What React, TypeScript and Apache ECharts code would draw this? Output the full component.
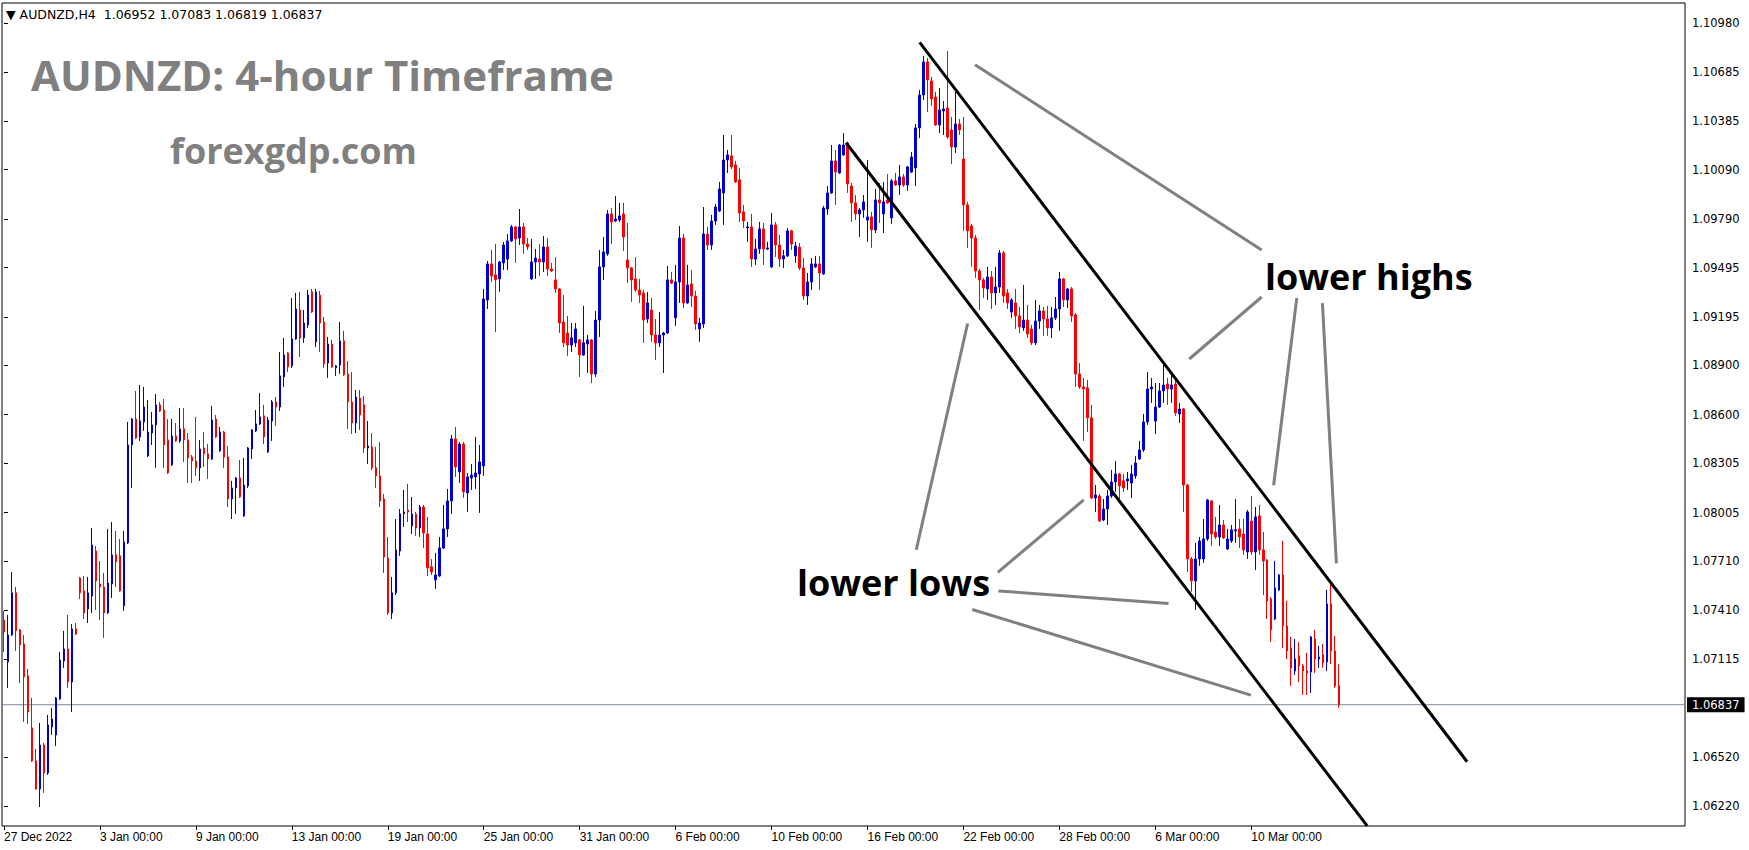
import React, { useEffect, useRef } from "react";
import * as echarts from "echarts";

const symbolName = "AUDNZD";
const timeframe = "H4";
const lastBar = { open: 1.06952, high: 1.07083, low: 1.06819, close: 1.06837 };
const currentPrice = 1.06837;

// each row: [open, close, low, high]
const decemberBars = [
  [1.07352, 1.07279, 1.07158, 1.07407], [1.07097, 1.07261, 1.06939, 1.07383], [1.07261, 1.07517, 1.07255, 1.07644],
  [1.07517, 1.07286, 1.07164, 1.07553], [1.07292, 1.072, 1.06969, 1.07298], [1.07206, 1.07006, 1.06732, 1.07261],
  [1.07012, 1.06793, 1.0672, 1.07054], [1.06696, 1.06495, 1.06489, 1.06878], [1.06495, 1.06325, 1.06319, 1.06568],
  [1.06325, 1.06592, 1.06215, 1.06726], [1.06592, 1.06422, 1.06301, 1.06605], [1.06422, 1.06714, 1.0641, 1.06775],
  [1.06702, 1.0675, 1.06653, 1.06817], [1.06653, 1.06878, 1.06586, 1.06884], [1.06872, 1.07109, 1.06866, 1.07158],
  [1.07103, 1.07176, 1.07061, 1.07286], [1.07176, 1.06975, 1.06939, 1.07383], [1.06975, 1.07298, 1.06793, 1.07328],
  [1.07298, 1.07267, 1.07261, 1.07334], [1.07608, 1.07517, 1.0748, 1.07614], [1.07529, 1.07395, 1.07358, 1.0762],
  [1.07419, 1.07517, 1.07334, 1.07614], [1.07498, 1.07808, 1.07395, 1.07912], [1.07772, 1.0759, 1.07413, 1.07802],
];

const januaryBars = [
  [1.07571, 1.07553, 1.07352, 1.07711], [1.07553, 1.07395, 1.07243, 1.07638], [1.07395, 1.07577, 1.07389, 1.07906],
  [1.07571, 1.07748, 1.07486, 1.07948], [1.07748, 1.07705, 1.07553, 1.07894], [1.07742, 1.07529, 1.07523, 1.07845],
  [1.07438, 1.07827, 1.07407, 1.07894], [1.07821, 1.08416, 1.07814, 1.08556], [1.08416, 1.08574, 1.08155, 1.08581],
  [1.08574, 1.08459, 1.08453, 1.08745], [1.08465, 1.08562, 1.08441, 1.08781], [1.08556, 1.08647, 1.08502, 1.08769],
  [1.0835, 1.08495, 1.08343, 1.0869], [1.08489, 1.08538, 1.08416, 1.08617], [1.08538, 1.0866, 1.08277, 1.08726],
  [1.0866, 1.08623, 1.08617, 1.08678], [1.08629, 1.08416, 1.08277, 1.08696], [1.08447, 1.08246, 1.0824, 1.08574],
  [1.08295, 1.08471, 1.08289, 1.08574], [1.08471, 1.08441, 1.08435, 1.0855], [1.08441, 1.08514, 1.08429, 1.08641],
  [1.08514, 1.08447, 1.08313, 1.08641], [1.08447, 1.08337, 1.08185, 1.08489], [1.08343, 1.08319, 1.08185, 1.08356],
  [1.08319, 1.08277, 1.08228, 1.08587], [1.08277, 1.08392, 1.08198, 1.08447], [1.08398, 1.08362, 1.08283, 1.08495],
  [1.08362, 1.08331, 1.0821, 1.08422], [1.08331, 1.08568, 1.08325, 1.08654], [1.08574, 1.08465, 1.08459, 1.08599],
  [1.0838, 1.08495, 1.08374, 1.08526], [1.08495, 1.08343, 1.08277, 1.08502], [1.08343, 1.08088, 1.08039, 1.0841],
  [1.08088, 1.08155, 1.07966, 1.08198], [1.08155, 1.08216, 1.07997, 1.08222], [1.08216, 1.081, 1.08094, 1.08325],
  [1.07985, 1.08173, 1.07979, 1.08337], [1.08167, 1.08398, 1.08155, 1.08404], [1.08392, 1.08508, 1.08331, 1.08514],
  [1.08502, 1.08544, 1.08495, 1.08629], [1.08544, 1.08587, 1.08538, 1.08733], [1.08593, 1.08465, 1.08422, 1.0866],
  [1.08374, 1.08568, 1.08368, 1.08587], [1.08562, 1.08678, 1.08441, 1.0869], [1.08678, 1.08647, 1.08532, 1.08708],
  [1.08647, 1.08836, 1.08623, 1.08982], [1.0883, 1.08964, 1.08769, 1.09067], [1.08976, 1.08891, 1.0886, 1.08982],
  [1.08897, 1.09061, 1.08885, 1.0931], [1.09061, 1.09243, 1.09055, 1.09341], [1.09237, 1.09067, 1.08951, 1.09347],
  [1.09067, 1.09158, 1.09037, 1.09237], [1.09146, 1.09328, 1.09128, 1.09359], [1.09347, 1.09225, 1.09219, 1.09365],
  [1.09043, 1.09347, 1.09012, 1.09365], [1.09328, 1.09158, 1.08982, 1.09353], [1.09164, 1.08909, 1.08885, 1.09195],
  [1.08915, 1.0903, 1.08824, 1.09073], [1.0903, 1.08891, 1.08885, 1.09055], [1.08885, 1.08897, 1.08836, 1.08903],
  [1.08903, 1.09049, 1.08848, 1.09164], [1.09049, 1.08842, 1.08836, 1.0911], [1.08848, 1.08678, 1.08514, 1.08927],
  [1.08678, 1.0855, 1.08483, 1.0886], [1.0855, 1.08708, 1.08489, 1.08751], [1.08702, 1.08599, 1.08508, 1.08751],
  [1.0866, 1.08398, 1.08368, 1.08714], [1.08398, 1.0841, 1.08301, 1.08562], [1.08404, 1.08277, 1.08264, 1.08489],
  [1.08277, 1.08228, 1.08155, 1.08404], [1.08228, 1.08076, 1.08039, 1.08435], [1.08088, 1.07735, 1.07638, 1.08118],
  [1.07729, 1.07395, 1.07383, 1.07857], [1.07395, 1.07517, 1.07358, 1.07614], [1.07517, 1.07778, 1.07504, 1.07966],
  [1.07772, 1.07997, 1.07742, 1.08027], [1.07997, 1.08009, 1.07918, 1.08143], [1.08021, 1.08009, 1.07948, 1.08179],
  [1.07924, 1.07997, 1.07875, 1.081], [1.07997, 1.07912, 1.07863, 1.08009], [1.07912, 1.08039, 1.07857, 1.08052],
  [1.08039, 1.07881, 1.0779, 1.08052], [1.07875, 1.07669, 1.0762, 1.07979], [1.07675, 1.07644, 1.07626, 1.07723],
  [1.07596, 1.07626, 1.07541, 1.0776], [1.0762, 1.0779, 1.07614, 1.07857], [1.0779, 1.07906, 1.07784, 1.08052],
  [1.07906, 1.08076, 1.07857, 1.08149], [1.08076, 1.08453, 1.07997, 1.08477], [1.08453, 1.08283, 1.08222, 1.08526],
  [1.08252, 1.08422, 1.08185, 1.08435], [1.08422, 1.08131, 1.08094, 1.08435], [1.08125, 1.08222, 1.08009, 1.08246],
  [1.08216, 1.08234, 1.08143, 1.08301], [1.08222, 1.08246, 1.08149, 1.08465], [1.0824, 1.08313, 1.08003, 1.08416],
  [1.08289, 1.09304, 1.08228, 1.09365], [1.09298, 1.09517, 1.09243, 1.09535], [1.09517, 1.09444, 1.09407, 1.09602],
  [1.0945, 1.0942, 1.09103, 1.09638], [1.09426, 1.09529, 1.09347, 1.09535], [1.09523, 1.09632, 1.0948, 1.09651],
  [1.09547, 1.09657, 1.0948, 1.09699], [1.09657, 1.09742, 1.09651, 1.09754], [1.09742, 1.09669, 1.09523, 1.09748],
  [1.09675, 1.09742, 1.09632, 1.09851], [1.09742, 1.09638, 1.09578, 1.09766], [1.09638, 1.0962, 1.09602, 1.09675],
  [1.09426, 1.09529, 1.0942, 1.09669], [1.09529, 1.09553, 1.09426, 1.09608], [1.09547, 1.09529, 1.09444, 1.09638],
  [1.09529, 1.0962, 1.09468, 1.09687], [1.0962, 1.09486, 1.09444, 1.09675], [1.09486, 1.09474, 1.09468, 1.09523],
  [1.0942, 1.09365, 1.09341, 1.09559], [1.09365, 1.09158, 1.09097, 1.09371], [1.09164, 1.09037, 1.09012, 1.09328],
  [1.09097, 1.09024, 1.08958, 1.09201], [1.09024, 1.09067, 1.08982, 1.09158], [1.09037, 1.09122, 1.09012, 1.09158],
  [1.09055, 1.08964, 1.0883, 1.09061], [1.08964, 1.09037, 1.08958, 1.09262], [1.0903, 1.09055, 1.08854, 1.09085],
  [1.09055, 1.08848, 1.08793, 1.09061], [1.08848, 1.09176, 1.0883, 1.09231], [1.09176, 1.09499, 1.09073, 1.09602],
];

const februaryBars = [
  [1.09499, 1.0959, 1.0942, 1.09681], [1.09578, 1.09821, 1.09566, 1.09845], [1.09821, 1.09772, 1.09638, 1.09857],
  [1.09778, 1.0979, 1.09772, 1.0993], [1.09784, 1.09809, 1.09772, 1.09888], [1.09821, 1.09681, 1.09596, 1.09888],
  [1.09541, 1.09493, 1.09401, 1.09766], [1.09493, 1.0942, 1.09286, 1.09499], [1.09426, 1.09359, 1.09347, 1.09559],
  [1.09359, 1.09328, 1.0928, 1.09426], [1.09341, 1.09176, 1.09037, 1.09359], [1.09182, 1.0928, 1.09158, 1.09347],
  [1.09237, 1.09085, 1.09043, 1.0931], [1.09085, 1.09037, 1.08933, 1.09182], [1.09037, 1.09085, 1.09012, 1.09225],
  [1.09085, 1.09097, 1.08854, 1.09103], [1.09097, 1.0942, 1.09091, 1.09505], [1.0942, 1.09401, 1.09395, 1.09468],
  [1.09189, 1.09407, 1.0914, 1.09511], [1.09407, 1.09675, 1.0928, 1.09748], [1.09675, 1.0928, 1.09249, 1.09699],
  [1.0928, 1.09389, 1.09274, 1.09511], [1.09395, 1.09322, 1.09255, 1.0948], [1.09322, 1.09152, 1.09116, 1.09353],
  [1.09122, 1.09158, 1.09043, 1.09189], [1.09152, 1.09699, 1.09128, 1.09863], [1.09699, 1.09632, 1.09602, 1.09742],
  [1.09632, 1.09778, 1.09602, 1.09815], [1.09778, 1.09863, 1.09754, 1.09882], [1.09839, 1.09973, 1.09833, 1.10015],
  [1.09949, 1.10149, 1.09754, 1.10301], [1.10149, 1.1018, 1.1007, 1.1021], [1.10174, 1.10107, 1.10094, 1.10301],
  [1.10119, 1.10015, 1.10009, 1.10143], [1.10028, 1.09827, 1.09772, 1.10101], [1.09833, 1.09778, 1.09736, 1.09876],
  [1.09736, 1.09742, 1.09651, 1.09772], [1.09742, 1.09547, 1.09499, 1.09821], [1.09547, 1.09608, 1.09511, 1.09669],
  [1.09608, 1.0973, 1.09578, 1.09772], [1.0973, 1.09608, 1.09511, 1.09766], [1.09608, 1.09614, 1.09602, 1.09651],
  [1.09499, 1.09754, 1.09493, 1.09827], [1.09754, 1.09632, 1.09559, 1.09772], [1.09632, 1.09547, 1.09499, 1.09693],
  [1.09547, 1.09566, 1.09493, 1.09602], [1.09566, 1.09718, 1.09559, 1.09736], [1.09718, 1.09638, 1.09602, 1.09724],
  [1.09566, 1.09626, 1.09523, 1.09651], [1.0962, 1.09493, 1.0948, 1.09645], [1.09493, 1.09322, 1.09298, 1.09553],
  [1.09322, 1.09407, 1.09268, 1.09462], [1.09407, 1.09517, 1.09359, 1.09553], [1.09499, 1.09517, 1.09493, 1.09566],
  [1.09517, 1.09462, 1.09359, 1.09566], [1.09456, 1.09857, 1.0945, 1.0987], [1.09851, 1.09949, 1.09815, 1.09991],
  [1.09949, 1.10143, 1.09942, 1.1024], [1.10143, 1.10076, 1.09876, 1.1021], [1.1007, 1.1024, 1.10064, 1.10246],
  [1.1018, 1.1024, 1.10174, 1.10313], [1.10253, 1.10003, 1.09949, 1.10259], [1.09991, 1.09888, 1.09772, 1.10009],
  [1.09888, 1.09821, 1.09784, 1.09936], [1.09821, 1.09845, 1.09681, 1.09857], [1.09845, 1.09894, 1.09797, 1.09936],
  [1.09784, 1.09803, 1.09651, 1.10149], [1.09803, 1.09724, 1.09614, 1.09833], [1.09724, 1.09906, 1.09705, 1.09973],
  [1.09906, 1.09888, 1.09766, 1.10009], [1.09821, 1.09894, 1.09705, 1.10015], [1.09906, 1.09888, 1.09882, 1.10064],
  [1.09797, 1.10022, 1.0976, 1.10034], [1.10022, 1.09997, 1.09991, 1.1007], [1.09997, 1.10046, 1.09936, 1.10119],
  [1.10046, 1.09997, 1.09985, 1.10064], [1.09997, 1.10107, 1.09961, 1.10113], [1.10076, 1.10167, 1.1007, 1.10198],
  [1.10101, 1.10344, 1.09991, 1.10368], [1.10344, 1.10544, 1.10283, 1.10575], [1.10544, 1.10745, 1.10514, 1.10782],
  [1.10745, 1.10636, 1.10441, 1.10769], [1.1063, 1.1052, 1.10478, 1.10654], [1.10532, 1.10362, 1.10356, 1.10563],
  [1.10362, 1.10453, 1.10313, 1.10587], [1.10447, 1.10459, 1.10301, 1.10508], [1.10465, 1.10289, 1.10277, 1.10812],
  [1.10332, 1.10228, 1.10125, 1.10411], [1.10228, 1.10368, 1.10192, 1.10563], [1.10368, 1.10332, 1.10301, 1.10398],
  [1.10155, 1.09876, 1.09718, 1.10411], [1.09876, 1.09718, 1.09614, 1.09894], [1.09748, 1.09675, 1.09499, 1.0976],
  [1.09675, 1.09474, 1.09432, 1.09693], [1.09474, 1.0942, 1.09237, 1.09486], [1.0942, 1.09371, 1.0931, 1.09432],
  [1.09365, 1.09438, 1.09298, 1.09499], [1.09438, 1.09341, 1.09243, 1.09474], [1.09341, 1.09377, 1.09268, 1.09499],
  [1.09377, 1.09584, 1.09341, 1.09602], [1.09584, 1.09322, 1.0928, 1.09596], [1.09341, 1.0928, 1.09243, 1.09365],
  [1.09225, 1.09298, 1.09189, 1.0931], [1.0928, 1.09201, 1.09122, 1.09365], [1.09201, 1.09134, 1.09097, 1.09255],
  [1.09128, 1.09176, 1.0911, 1.09389], [1.09176, 1.09091, 1.09067, 1.09268], [1.09122, 1.09037, 1.09024, 1.09146],
  [1.09037, 1.0917, 1.09024, 1.09298], [1.0917, 1.09231, 1.09122, 1.09268], [1.09231, 1.09182, 1.09079, 1.09255],
  [1.09182, 1.09128, 1.09079, 1.09262], [1.09128, 1.09189, 1.09067, 1.09255], [1.09189, 1.09243, 1.09176, 1.09316],
  [1.09243, 1.09426, 1.0911, 1.09468], [1.09426, 1.09298, 1.09255, 1.09432], [1.09298, 1.09365, 1.09249, 1.09371],
  [1.09365, 1.09201, 1.09164, 1.09377], [1.09207, 1.08848, 1.08769, 1.09219], [1.08848, 1.08769, 1.08757, 1.08915],
];

const marchBars = [
  [1.08769, 1.08757, 1.08441, 1.08824], [1.08763, 1.08581, 1.08495, 1.08812], [1.08581, 1.08094, 1.08088, 1.0866],
  [1.08094, 1.08112, 1.08009, 1.08173], [1.08106, 1.07954, 1.07948, 1.08118], [1.0796, 1.08027, 1.07954, 1.08088],
  [1.08027, 1.08106, 1.0793, 1.08143], [1.08106, 1.08191, 1.08094, 1.08264], [1.08191, 1.0824, 1.08131, 1.08319],
  [1.0824, 1.08167, 1.08088, 1.08246], [1.08198, 1.08155, 1.08131, 1.0824], [1.08198, 1.0821, 1.08143, 1.08252],
  [1.08185, 1.0824, 1.08094, 1.08295], [1.08228, 1.08307, 1.0821, 1.0835], [1.08331, 1.08386, 1.08325, 1.08441],
  [1.08386, 1.08556, 1.08374, 1.08605], [1.08556, 1.08757, 1.08538, 1.0886], [1.08757, 1.08769, 1.08672, 1.08824],
  [1.08562, 1.08647, 1.08483, 1.08793], [1.08647, 1.08745, 1.08641, 1.08793], [1.08745, 1.08781, 1.08672, 1.08915],
  [1.08787, 1.08757, 1.0866, 1.08824], [1.08757, 1.08781, 1.08672, 1.08848], [1.08787, 1.08611, 1.08593, 1.08812],
  [1.08605, 1.08635, 1.0855, 1.08672], [1.08635, 1.08173, 1.08009, 1.08641], [1.08173, 1.07723, 1.07644, 1.08179],
  [1.07723, 1.0759, 1.07523, 1.07735], [1.0759, 1.07723, 1.07413, 1.07821], [1.07723, 1.07833, 1.07681, 1.07857],
  [1.07723, 1.07845, 1.07699, 1.07966], [1.07845, 1.08082, 1.07833, 1.08088], [1.08076, 1.07875, 1.07802, 1.08082],
  [1.07887, 1.07857, 1.07845, 1.07979], [1.07857, 1.0793, 1.07802, 1.08052], [1.0793, 1.07851, 1.07845, 1.0796],
  [1.07784, 1.07845, 1.07778, 1.07906], [1.07833, 1.079, 1.07821, 1.0793], [1.07894, 1.079, 1.07821, 1.08088],
  [1.07906, 1.07857, 1.0779, 1.07966], [1.07875, 1.07778, 1.07748, 1.07966], [1.07766, 1.08009, 1.07723, 1.08021],
  [1.07954, 1.07766, 1.07748, 1.08106], [1.07766, 1.07979, 1.07656, 1.08039], [1.07985, 1.07778, 1.07748, 1.08052],
  [1.07778, 1.07711, 1.07504, 1.07887], [1.07717, 1.07468, 1.07358, 1.07723], [1.0748, 1.07292, 1.07219, 1.07492],
  [1.07358, 1.07547, 1.07352, 1.07711], [1.07535, 1.07626, 1.07529, 1.07632], [1.07626, 1.07316, 1.07182, 1.07833],
  [1.07316, 1.07164, 1.07115, 1.07468], [1.07182, 1.07061, 1.06951, 1.07249], [1.07042, 1.07115, 1.07018, 1.07237],
  [1.07134, 1.07073, 1.06975, 1.07219], [1.07073, 1.07042, 1.06896, 1.07085], [1.07042, 1.0703, 1.06896, 1.07152],
  [1.07036, 1.07249, 1.06909, 1.07255], [1.07237, 1.07115, 1.0703, 1.07292], [1.07115, 1.07127, 1.07061, 1.07194],
  [1.0714, 1.07091, 1.07061, 1.07206], [1.07097, 1.0745, 1.07042, 1.07535], [1.0745, 1.07164, 1.07085, 1.07571],
  [1.07164, 1.06951, 1.06939, 1.07255],
];

// x-axis tick labels: [bar index, label]
const dateTicks: [number, string][] = [
  [0, "27 Dec 2022"], [24, "3 Jan 00:00"], [48, "9 Jan 00:00"], [72, "13 Jan 00:00"], [96, "19 Jan 00:00"],
  [120, "25 Jan 00:00"], [144, "31 Jan 00:00"], [168, "6 Feb 00:00"], [192, "10 Feb 00:00"], [216, "16 Feb 00:00"],
  [240, "22 Feb 00:00"], [264, "28 Feb 00:00"], [288, "6 Mar 00:00"], [312, "10 Mar 00:00"],
];

const priceTicks = [
  1.1098, 1.10685, 1.10385, 1.1009, 1.0979, 1.09495, 1.09195, 1.089, 1.086, 1.08305, 1.08005, 1.0771, 1.0741,
  1.07115, 1.0652, 1.0622,
];

const slotCount = 421;
const priceMin = 1.060995;
const priceMax = 1.111035;

// annotation lines in data space: [barIndex, price]
const channelLines = [
  { from: [229.05, 1.10864], to: [366.0, 1.0649] },
  { from: [210.65, 1.10254], to: [341.0, 1.061] },
];
const higherArrows = [
  { from: [242.9, 1.10728], to: [314.6, 1.09602] },
  { from: [296.5, 1.08939], to: [314.6, 1.09316] },
  { from: [317.6, 1.08171], to: [323.4, 1.09311] },
  { from: [333.3, 1.07696], to: [329.8, 1.09279] },
];
const lowerArrows = [
  { from: [241.05, 1.09155], to: [228.2, 1.07779] },
  { from: [270.1, 1.08082], to: [248.6, 1.07642] },
  { from: [248.75, 1.07529], to: [291.3, 1.07452] },
  { from: [242.2, 1.07416], to: [311.9, 1.06895] },
];

const BULL = "#0000CC";
const BEAR = "#FF0000";

export default function App() {
  const ref = useRef<HTMLDivElement>(null);

  useEffect(() => {
    const bars = [
      ...decemberBars,
      ...januaryBars,
      ...februaryBars,
      ...marchBars,
      [lastBar.open, lastBar.close, lastBar.low, lastBar.high],
    ];
    const categories = Array.from({ length: slotCount }, (_, i) => String(i));
    const tickMap = new Map<number, string>(dateTicks);
    const showTick = (index: number) => tickMap.has(index);

    const lineSeries = (items: { from: number[]; to: number[] }[], color: string, width: number) =>
      items.map((l) => ({
        type: "line",
        xAxisIndex: 1,
        yAxisIndex: 0,
        data: [l.from, l.to],
        symbol: "none",
        showSymbol: false,
        silent: true,
        clip: false,
        z: 5,
        lineStyle: { color, width },
      }));

    const header = `▼ ${symbolName},${timeframe}  ${lastBar.open.toFixed(5)} ${lastBar.high.toFixed(5)} ${lastBar.low.toFixed(5)} ${lastBar.close.toFixed(5)}`;

    const option: any = {
      animation: false,
      backgroundColor: "#ffffff",
      textStyle: { fontFamily: "Liberation Sans" },
      grid: {
        left: 2,
        right: 64,
        top: 3,
        bottom: 24,
        show: true,
        borderColor: "#000",
        borderWidth: 1,
        backgroundColor: "#fff",
      },
      xAxis: [
        {
          type: "category",
          data: categories,
          boundaryGap: true,
          axisLine: { show: false },
          splitLine: { show: false },
          axisTick: {
            show: true,
            interval: showTick,
            alignWithLabel: true,
            length: 4,
            lineStyle: { color: "#000" },
          },
          axisLabel: {
            interval: showTick,
            align: "left",
            margin: 5,
            color: "#000",
            fontFamily: "Liberation Sans",
            fontSize: 12,
            formatter: (_v: string, i: number) => tickMap.get(i) || "",
          },
        },
        { type: "value", min: -0.5, max: slotCount - 0.5, show: false },
      ],
      yAxis: {
        type: "value",
        position: "right",
        min: priceMin,
        max: priceMax,
        scale: true,
        splitLine: { show: false },
        axisLine: { show: false },
        axisTick: { show: true, length: 4, customValues: priceTicks, lineStyle: { color: "#000" } },
        axisLabel: {
          customValues: priceTicks,
          formatter: (v: number) => v.toFixed(5),
          margin: 7,
          color: "#000",
          fontFamily: "DejaVu Sans",
          fontSize: 11.5,
        },
      },
      series: [
        {
          type: "line",
          xAxisIndex: 1,
          yAxisIndex: 0,
          data: [
            [-0.5, currentPrice],
            [slotCount - 0.5, currentPrice],
          ],
          symbol: "none",
          showSymbol: false,
          silent: true,
          z: 1,
          lineStyle: { color: "#7f8c99", width: 1 },
          endLabel: {
            show: true,
            formatter: () => currentPrice.toFixed(5),
            distance: 2,
            backgroundColor: "#000",
            color: "#fff",
            fontFamily: "DejaVu Sans",
            fontSize: 11.5,
            padding: [2, 5, 1, 5],
          },
        },
        {
          type: "candlestick",
          data: bars,
          barWidth: 2,
          z: 2,
          itemStyle: {
            color: BULL,
            color0: BEAR,
            borderColor: BULL,
            borderColor0: BEAR,
            borderWidth: 1,
          },
        },
        ...lineSeries(channelLines, "#000000", 3),
        ...lineSeries(higherArrows, "#808080", 3),
        ...lineSeries(lowerArrows, "#808080", 3),
      ],
      graphic: [
        {
          type: "text",
          x: 6,
          y: 14,
          style: {
            text: header,
            fontFamily: "DejaVu Sans",
            fontSize: 12.5,
            fill: "#000",
            verticalAlign: "middle",
          },
        },
        {
          type: "text",
          x: 31,
          y: 74,
          style: { text: "AUDNZD: 4-hour Timeframe", font: 'bold 42px "Open Sans"', fill: "#808080", verticalAlign: "middle" },
        },
        {
          type: "text",
          x: 170,
          y: 150,
          style: { text: "forexgdp.com", font: 'bold 36px "Open Sans"', fill: "#808080", verticalAlign: "middle" },
        },
        {
          type: "text",
          x: 1265,
          y: 276,
          style: { text: "lower highs", font: 'bold 36px "Open Sans"', fill: "#000", verticalAlign: "middle" },
        },
        {
          type: "text",
          x: 797,
          y: 582,
          style: { text: "lower lows", font: 'bold 36px "Open Sans"', fill: "#000", verticalAlign: "middle" },
        },
      ],
    };

    const chart = echarts.init(ref.current!, undefined, { renderer: "svg" });
    chart.setOption(option);
    return () => chart.dispose();
  }, []);

  return (
    <div
      ref={ref}
      style={{ position: "absolute", left: 0, top: 0, width: 1749, height: 850, background: "#fff" }}
    />
  );
}
